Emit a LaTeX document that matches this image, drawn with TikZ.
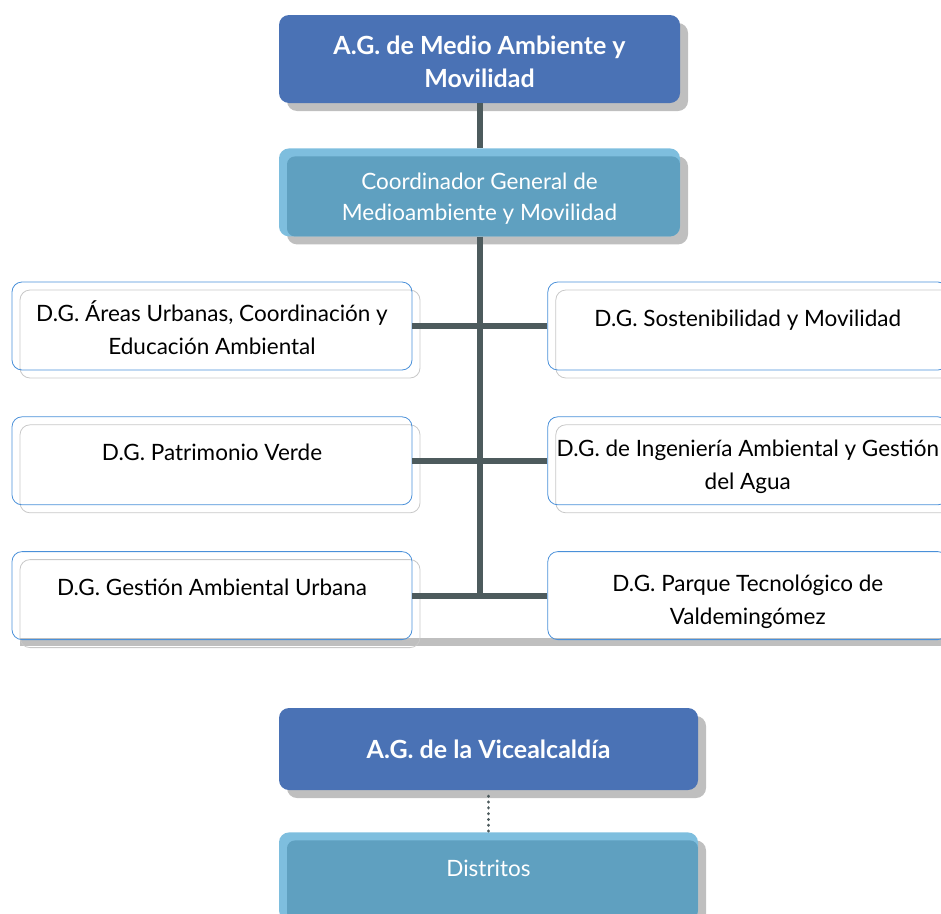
\documentclass[tikz,border=0pt]{standalone}
\usepackage{fontspec}
\setmainfont{Lato}
\usepackage{tikz}
\usetikzlibrary{
  positioning,
  shadows
}
\definecolor{AGBlue}{RGB}{74,114,181}
\definecolor{CoordLight}{RGB}{126,190,222}
\definecolor{CoordDark}{RGB}{95,160,192}
\definecolor{ShadowGray}{RGB}{191,191,191}
\definecolor{TrunkGray}{RGB}{77,91,93}
\definecolor{DGBlue}{RGB}{74,144,217}
\definecolor{DGGray}{RGB}{200,200,200}
\tikzset{
  graysh/.style={drop shadow={shadow xshift=8pt,shadow yshift=-8pt,fill=ShadowGray,opacity=1}},
  oneline/.style={text height=14pt,text depth=14pt},
  twoline/.style={text height=57pt,text depth=0pt},
  agnode/.style={fill=AGBlue,rounded corners=10pt,minimum width=401pt,minimum height=88pt,align=center,text=white,font=\fontsize{25}{33}\selectfont\bfseries,graysh},
  coordnode/.style={fill=CoordLight,rounded corners=10pt,minimum width=401pt,minimum height=88pt,align=center,text=white,font=\fontsize{22.5}{31}\selectfont,graysh,
    path picture={\fill[CoordDark,rounded corners=8pt] ([xshift=8pt,yshift=-8pt]path picture bounding box.north west) rectangle (path picture bounding box.south east);}},
  dgbox/.style={draw=DGBlue,line width=0.8pt,rounded corners=10pt,minimum width=400pt,minimum height=88pt,align=center,font=\fontsize{22.5}{33}\selectfont},
  dgnode/.style={dgbox,drop shadow={shadow xshift=8pt,shadow yshift=-8pt,fill=none,draw=DGGray,opacity=1}},
  trunkline/.style={line width=6pt,draw=TrunkGray},
  dotline/.style={line width=3.2pt,draw=TrunkGray,line cap=round,dash pattern=on 0.1pt off 5.7pt}
}
\begin{document}
\begin{tikzpicture}[x=1pt,y=-1pt]
\useasboundingbox (0,0) rectangle (941,913);
\fill[ShadowGray] (20,638) rectangle (941,646);

\node[agnode, twoline] (ag) at (479.5,59) {A.G. de Medio Ambiente y\\Movilidad};
\node[coordnode, twoline, below=45pt of ag] (coord) {Coordinador General de\\Medioambiente y Movilidad};

\node[dgnode, twoline] (dga) at (212,326) {D.G. Áreas Urbanas, Coordinación y\\Educación Ambiental};
\node[dgnode, oneline, below=46pt of dga] (dgb) {D.G. Patrimonio Verde};
\node[dgnode, oneline, below=46pt of dgb] (dgc) {D.G. Gestión Ambiental Urbana};
\node[dgnode, oneline, right=135pt of dga] (dgd) {D.G. Sostenibilidad y Movilidad};
\node[dgnode, twoline, right=135pt of dgb] (dge) {D.G. de Ingeniería Ambiental y Gestión\\del Agua};
\node[dgbox, twoline, right=135pt of dgc] (dgf) {D.G. Parque Tecnológico de\\Valdemingómez};

\draw[trunkline] (ag.south) -- (coord.north);
\draw[trunkline] (coord.south) -- (coord.south |- dgc.east);
\foreach \l/\r in {dga/dgd,dgb/dge,dgc/dgf}{
  \draw[trunkline] (\l.east) -- (\r.west);
}

\node[agnode, minimum width=419pt, minimum height=82pt] (vic) at (488.5,749) {A.G. de la Vicealcaldía};
\node[coordnode, oneline, minimum width=419pt, below=42pt of vic] (dist) {Distritos};
\draw[dotline, shorten <=6pt] (vic.south) -- (dist.north);
\end{tikzpicture}
\end{document}
